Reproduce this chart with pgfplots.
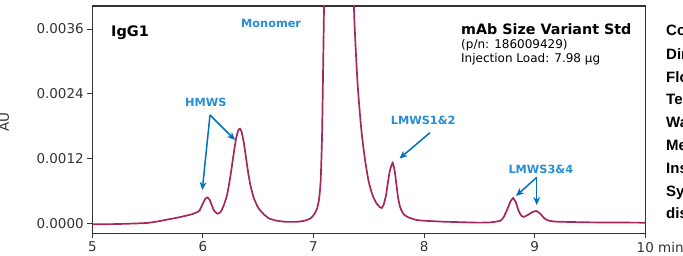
\documentclass[border=0pt]{standalone}
\usepackage{pgfplots}
\pgfplotsset{compat=1.18}
\usepackage{fontspec}
\setmainfont{DejaVu Sans}
\newfontfamily\arialf{Liberation Sans}
\usetikzlibrary{arrows.meta}
\definecolor{trace}{RGB}{166,38,94}
\definecolor{arrowblue}{RGB}{0,114,188}
\definecolor{lblblue}{RGB}{40,142,212}
\definecolor{axisgray}{RGB}{51,51,51}
\begin{document}
\begin{tikzpicture}
\begin{axis}[at={(0,0)}, anchor=south west,
  width=553pt, height=227.3pt, scale only axis,
  xmin=5, xmax=10, ymin=-0.000172, ymax=0.004025,
  xtick={5,6,7,8,9,10}, xticklabels={5,6,7,8,9,10\rlap{ min}},
  ytick={0,0.0012,0.0024,0.0036}, yticklabels={0.0000,0.0012,0.0024,0.0036},
  scaled y ticks=false, scaled x ticks=false,
  tick align=outside, xtick pos=bottom, ytick pos=left,
  major tick length=5pt,
  axis line style={axisgray, line width=1.1pt},
  tick style={axisgray, line width=1pt},
  ticklabel style={font=\fontsize{13.5}{16}\selectfont, text=axisgray},
  clip=true]
\addplot[trace, line width=1.7pt, smooth, tension=0.3] coordinates {
(5.0,-0.000005) (5.2,-0.000002) (5.4,0.00001) (5.5,0.00002) (5.6,0.00005) (5.7,0.00009)
(5.8,0.00013) (5.9,0.00018) (5.95,0.00022) (5.97,0.00025) (6.0,0.00038) (6.02,0.00046)
(6.04,0.00049) (6.06,0.00045) (6.08,0.00035) (6.10,0.00025) (6.13,0.00019) (6.16,0.00022)
(6.19,0.00035) (6.22,0.00055) (6.25,0.00090) (6.28,0.00132) (6.30,0.00158) (6.32,0.00173)
(6.335,0.00176) (6.35,0.00170) (6.37,0.00150) (6.39,0.00122) (6.41,0.00094) (6.43,0.00071)
(6.46,0.00048) (6.50,0.00030) (6.55,0.00018) (6.60,0.00010) (6.67,0.00006) (6.75,0.00004)
(6.85,0.00004) (6.92,0.00006) (6.97,0.00010) (7.00,0.00016) (7.03,0.00027) (7.05,0.00045)
(7.065,0.0008) (7.077,0.0016) (7.085,0.0026) (7.095,0.0040) (7.11,0.0065) (7.15,0.0100)
(7.23,0.0120) (7.30,0.0100) (7.345,0.0065) (7.366,0.0040) (7.38,0.0033) (7.39,0.0029)
(7.40,0.00255) (7.414,0.00217) (7.436,0.00167) (7.466,0.00118) (7.496,0.00081) (7.52,0.00062)
(7.54,0.00050) (7.57,0.00038) (7.60,0.00031) (7.617,0.000295) (7.635,0.00036) (7.655,0.00052)
(7.667,0.00069) (7.69,0.00098) (7.716,0.00113) (7.735,0.00097) (7.752,0.00069) (7.765,0.00048)
(7.782,0.00032) (7.80,0.00023) (7.82,0.00017) (7.86,0.00012) (7.93,0.000075) (8.0,0.00006)
(8.17,0.000043) (8.48,0.000025) (8.60,0.00003) (8.69,0.00006) (8.72,0.00013) (8.75,0.00026)
(8.78,0.00041) (8.805,0.00048) (8.83,0.00040) (8.855,0.00024) (8.88,0.00015) (8.90,0.00013)
(8.94,0.00017) (8.98,0.00022) (9.015,0.00024) (9.05,0.00019) (9.09,0.00010) (9.13,0.00006)
(9.2,0.000043) (9.5,0.00003) (10.0,0.000024)
};
\end{axis}
\begin{scope}[shift={(-92.3pt,233.3pt)}, x=1pt, y=-1pt]
  \node[anchor=base, rotate=90, font=\fontsize{13.5}{16}\selectfont, text=axisgray, inner sep=0pt] at (9.0,122) {AU};
  \node[anchor=base west, inner sep=0pt, font=\fontsize{14.5}{17}\selectfont\bfseries] at (111,36.7) {IgG1};
  \node[anchor=base west, inner sep=0pt, font=\fontsize{11.3}{13}\selectfont\bfseries, text=lblblue] at (241,27.3) {Monomer};
  \node[anchor=base west, inner sep=0pt, font=\fontsize{14.3}{17}\selectfont\bfseries] at (461,34.4) {mAb Size Variant Std};
  \node[anchor=base west, inner sep=0pt, font=\fontsize{12}{14}\selectfont] at (461,48.5) {(p/n: 186009429)};
  \node[anchor=base west, inner sep=0pt, font=\fontsize{12}{14}\selectfont] at (461,62.7) {Injection Load: 7.98 µg};
  \node[anchor=base west, inner sep=0pt, font=\fontsize{11.3}{13}\selectfont\bfseries, text=lblblue] at (185,106.7) {HMWS};
  \node[anchor=base west, inner sep=0pt, font=\fontsize{11.3}{13}\selectfont\bfseries, text=lblblue] at (390.7,125) {LMWS1\&2};
  \node[anchor=base west, inner sep=0pt, font=\fontsize{11.3}{13}\selectfont\bfseries, text=lblblue] at (508.3,174) {LMWS3\&4};
  \begin{scope}[arrowblue, line width=1.5pt, -{Stealth[length=8pt,width=7pt]}]
    \draw (210,115) -- (202.3,190);
    \draw (210,115) -- (235,140);
    \draw (430,132.7) -- (399.5,158.5);
    \draw (536.7,177.3) -- (516,196);
    \draw (536.7,177.3) -- (536.7,205);
  \end{scope}
  \begin{scope}[font=\arialf\bfseries\fontsize{15}{18}\selectfont]
    \node[anchor=base west, inner sep=0pt] at (666,36) {Column:};
    \node[anchor=base west, inner sep=0pt] at (666,60) {Dimensions:};
    \node[anchor=base west, inner sep=0pt] at (666,82.7) {Flow Rate:};
    \node[anchor=base west, inner sep=0pt] at (666,105) {Temperature:};
    \node[anchor=base west, inner sep=0pt] at (666,128) {Wavelength:};
    \node[anchor=base west, inner sep=0pt] at (666,151) {Method:};
    \node[anchor=base west, inner sep=0pt] at (666,174) {Instrument:};
    \node[anchor=base west, inner sep=0pt] at (666,196.7) {System};
    \node[anchor=base west, inner sep=0pt] at (666,219) {dispersion:};
  \end{scope}
  \pgfresetboundingbox
  \path[use as bounding box] (0,0) rectangle (683,256);
\end{scope}
\end{tikzpicture}
\end{document}
